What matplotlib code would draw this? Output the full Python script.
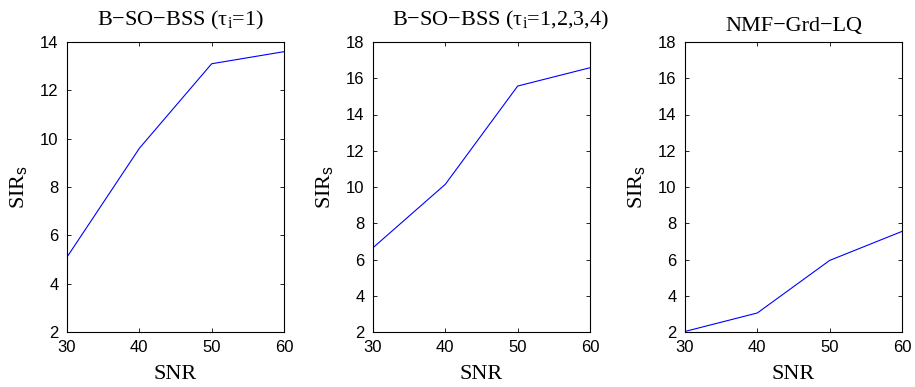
import matplotlib
matplotlib.use('Agg')
import matplotlib.pyplot as plt

plt.rcParams['font.family'] = 'Liberation Sans'
plt.rcParams['mathtext.fontset'] = 'custom'
plt.rcParams['mathtext.rm'] = 'Liberation Serif'
plt.rcParams['mathtext.it'] = 'Liberation Serif'
plt.rcParams['mathtext.sf'] = 'Liberation Sans'

# data
snr = [30, 40, 50, 60]
sir_bso_1 = [5.1, 9.6, 13.1, 13.6]
sir_bso_1234 = [6.65, 10.15, 15.57, 16.58]
sir_nmf = [2.03, 3.05, 5.95, 7.55]

titles = ['B\u2212SO\u2212BSS (\u03c4$_\\mathrm{i}$=1)',
          'B\u2212SO\u2212BSS (\u03c4$_\\mathrm{i}$=1,2,3,4)',
          'NMF\u2212Grd\u2212LQ']
series = [sir_bso_1, sir_bso_1234, sir_nmf]
ylims = [(2, 14), (2, 18), (2, 18)]
yticks = [range(2, 15, 2), range(2, 19, 2), range(2, 19, 2)]

fig = plt.figure(figsize=(9.15, 3.87), dpi=100)
lefts = [67, 373, 685]
title_x = [0.523, 0.59, 0.5]
title_pad = [12, 12, 8]
W, H = 915.0, 387.0
for k in range(3):
    ax = fig.add_axes([lefts[k] / W, (H - 332) / H, 217 / W, 290 / H])
    ax.plot(snr, series[k], color='blue', linewidth=0.8)
    ax.set_xlim(30, 60)
    ax.set_ylim(*ylims[k])
    ax.set_xticks([30, 40, 50, 60])
    ax.set_yticks(list(yticks[k]))
    ax.tick_params(direction='in', top=True, right=True, labelsize=12, length=3, width=0.6)
    ax.tick_params(axis='x', pad=6)
    ax.tick_params(axis='y', pad=6)
    for s in ax.spines.values():
        s.set_linewidth(0.8)
    ax.set_title(titles[k], fontsize=16, family='Liberation Serif',
                 pad=title_pad[k], x=title_x[k])
    ax.set_xlabel('SNR', fontsize=16, family='Liberation Serif', labelpad=7)
    ax.set_ylabel('SIR$_\\mathsf{s}$', fontsize=16, family='Liberation Serif', labelpad=8)

fig.savefig('out.png', dpi=100)
